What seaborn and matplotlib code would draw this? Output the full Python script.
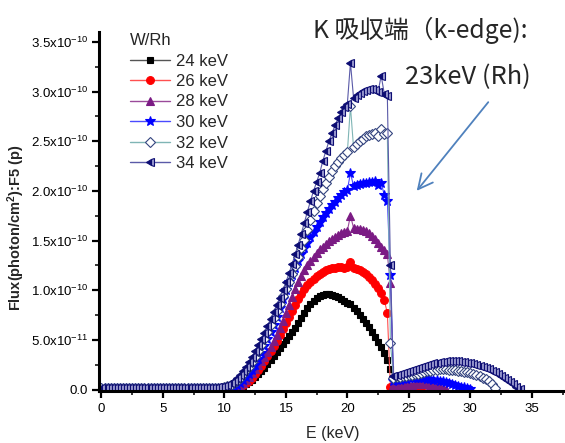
import numpy as np
import pandas as pd
import matplotlib
matplotlib.use("Agg")
import matplotlib.pyplot as plt
from matplotlib.lines import Line2D
import seaborn as sns

# ---------------------------------------------------------------------------
# W target / Rh filter spectra, F5 point-detector tally, 0.25 keV bins
# ---------------------------------------------------------------------------
E_STEP = 0.25                      # bin width (keV)
FLUX_UNIT = 1e-10                  # values below are in units of 1e-10 photon/cm^2

series_labels = ["24 keV", "26 keV", "28 keV", "30 keV", "32 keV", "34 keV"]

flux_24 = [
    0.01, 0.01, 0.01, 0.01, 0.01, 0.01, 0.01, 0.01,
    0.01, 0.01, 0.01, 0.01, 0.01, 0.01, 0.01, 0.01,
    0.01, 0.01, 0.01, 0.01, 0.01, 0.01, 0.01, 0.01,
    0.01, 0.01, 0.01, 0.01, 0.01, 0.01, 0.01, 0.01,
    0.01, 0.01, 0.01, 0.01, 0.01, 0.01, 0.01, 0.01,
    0.01, 0.01, 0.01, 0.02, 0.02, 0.03, 0.04, 0.06,
    0.08, 0.10, 0.13, 0.16, 0.19, 0.22, 0.26, 0.30,
    0.34, 0.38, 0.42, 0.46, 0.50, 0.54, 0.58, 0.62,
    0.67, 0.72, 0.77, 0.82, 0.86, 0.89, 0.92, 0.94,
    0.95, 0.96, 0.96, 0.95, 0.94, 0.93, 0.91, 0.89,
    0.87, 0.86, 0.82, 0.79, 0.75, 0.71, 0.67, 0.63,
    0.58, 0.53, 0.48, 0.43, 0.37, 0.30, 0.21, 0.12,
    0.02,
]

flux_26 = [
    0.01, 0.01, 0.01, 0.01, 0.01, 0.01, 0.01, 0.01,
    0.01, 0.01, 0.01, 0.01, 0.01, 0.01, 0.01, 0.01,
    0.01, 0.01, 0.01, 0.01, 0.01, 0.01, 0.01, 0.01,
    0.01, 0.01, 0.01, 0.01, 0.01, 0.01, 0.01, 0.01,
    0.01, 0.01, 0.01, 0.01, 0.01, 0.01, 0.01, 0.01,
    0.01, 0.01, 0.02, 0.02, 0.03, 0.04, 0.05, 0.07,
    0.09, 0.12, 0.16, 0.20, 0.24, 0.29, 0.34, 0.39,
    0.44, 0.49, 0.55, 0.61, 0.67, 0.73, 0.79, 0.85,
    0.91, 0.96, 1.01, 1.05, 1.08, 1.11, 1.14, 1.16,
    1.18, 1.20, 1.21, 1.22, 1.22, 1.23, 1.23, 1.22,
    1.23, 1.28, 1.22, 1.21, 1.20, 1.18, 1.16, 1.13,
    1.10, 1.06, 1.02, 0.97, 0.90, 0.77, 0.03, 0.02,
    0.02, 0.02, 0.02, 0.02, 0.02, 0.02, 0.02, 0.01,
    0.00,
]

flux_28 = [
    0.02, 0.02, 0.02, 0.02, 0.02, 0.02, 0.02, 0.02,
    0.02, 0.02, 0.02, 0.02, 0.02, 0.02, 0.02, 0.02,
    0.02, 0.02, 0.02, 0.02, 0.02, 0.02, 0.02, 0.02,
    0.02, 0.02, 0.02, 0.02, 0.02, 0.02, 0.02, 0.02,
    0.02, 0.02, 0.02, 0.02, 0.02, 0.02, 0.02, 0.02,
    0.02, 0.02, 0.03, 0.03, 0.04, 0.05, 0.07, 0.10,
    0.13, 0.17, 0.21, 0.25, 0.29, 0.33, 0.38, 0.43,
    0.49, 0.55, 0.62, 0.69, 0.77, 0.85, 0.93, 1.01,
    1.08, 1.14, 1.20, 1.25, 1.29, 1.33, 1.37, 1.41,
    1.44, 1.47, 1.50, 1.52, 1.54, 1.56, 1.58, 1.59,
    1.60, 1.75, 1.63, 1.62, 1.62, 1.61, 1.60, 1.58,
    1.55, 1.52, 1.48, 1.44, 1.40, 1.36, 1.07, 0.05,
    0.05, 0.05, 0.05, 0.05, 0.05, 0.05, 0.06, 0.06,
    0.06, 0.06, 0.06, 0.05, 0.05, 0.04, 0.03, 0.02,
    0.01,
]

flux_30 = [
    0.02, 0.02, 0.02, 0.02, 0.02, 0.02, 0.02, 0.02,
    0.02, 0.02, 0.02, 0.02, 0.02, 0.02, 0.02, 0.02,
    0.02, 0.02, 0.02, 0.02, 0.02, 0.02, 0.02, 0.02,
    0.02, 0.02, 0.02, 0.02, 0.02, 0.02, 0.02, 0.02,
    0.02, 0.02, 0.02, 0.02, 0.02, 0.02, 0.02, 0.02,
    0.02, 0.03, 0.03, 0.04, 0.05, 0.07, 0.10, 0.13,
    0.16, 0.20, 0.25, 0.31, 0.37, 0.44, 0.51, 0.58,
    0.65, 0.73, 0.82, 0.91, 1.00, 1.08, 1.15, 1.22,
    1.29, 1.36, 1.42, 1.48, 1.54, 1.59, 1.64, 1.69,
    1.74, 1.78, 1.82, 1.86, 1.89, 1.93, 1.96, 1.99,
    2.01, 2.18, 2.05, 2.06, 2.07, 2.08, 2.08, 2.09,
    2.09, 2.10, 2.06, 2.08, 1.96, 1.90, 1.15, 0.09,
    0.10, 0.10, 0.11, 0.11, 0.12, 0.12, 0.12, 0.12,
    0.12, 0.12, 0.11, 0.11, 0.10, 0.10, 0.09, 0.09,
    0.08, 0.07, 0.06, 0.05, 0.04, 0.03, 0.03, 0.02,
    0.01,
]

flux_32 = [
    0.02, 0.02, 0.02, 0.02, 0.02, 0.02, 0.02, 0.02,
    0.02, 0.02, 0.02, 0.02, 0.02, 0.02, 0.02, 0.02,
    0.02, 0.02, 0.02, 0.02, 0.02, 0.02, 0.02, 0.02,
    0.02, 0.02, 0.02, 0.02, 0.02, 0.02, 0.02, 0.02,
    0.02, 0.02, 0.02, 0.02, 0.02, 0.02, 0.02, 0.02,
    0.03, 0.04, 0.05, 0.07, 0.09, 0.12, 0.16, 0.20,
    0.23, 0.28, 0.33, 0.39, 0.45, 0.51, 0.58, 0.65,
    0.72, 0.79, 0.86, 0.94, 1.01, 1.08, 1.16, 1.24,
    1.33, 1.42, 1.51, 1.61, 1.71, 1.80, 1.88, 1.95,
    2.02, 2.08, 2.14, 2.20, 2.25, 2.29, 2.33, 2.36,
    2.39, 2.85, 2.44, 2.47, 2.50, 2.52, 2.55, 2.56,
    2.57, 2.58, 2.55, 2.62, 2.57, 2.58, 0.47, 0.12,
    0.13, 0.13, 0.14, 0.14, 0.15, 0.15, 0.16, 0.16,
    0.17, 0.18, 0.19, 0.19, 0.20, 0.20, 0.21, 0.21,
    0.21, 0.20, 0.20, 0.20, 0.19, 0.19, 0.18, 0.18,
    0.17, 0.16, 0.15, 0.14, 0.12, 0.11, 0.09, 0.06,
    0.02,
]

flux_34 = [
    0.02, 0.02, 0.02, 0.02, 0.02, 0.02, 0.02, 0.02,
    0.02, 0.02, 0.02, 0.02, 0.02, 0.02, 0.02, 0.02,
    0.02, 0.02, 0.02, 0.02, 0.02, 0.02, 0.02, 0.02,
    0.02, 0.02, 0.02, 0.02, 0.02, 0.02, 0.02, 0.02,
    0.02, 0.02, 0.02, 0.02, 0.02, 0.02, 0.03, 0.03,
    0.04, 0.05, 0.07, 0.09, 0.12, 0.15, 0.19, 0.23,
    0.28, 0.33, 0.39, 0.45, 0.51, 0.57, 0.64, 0.71,
    0.78, 0.85, 0.92, 1.00, 1.08, 1.17, 1.26, 1.36,
    1.46, 1.57, 1.68, 1.79, 1.90, 2.00, 2.09, 2.18,
    2.30, 2.40, 2.50, 2.58, 2.66, 2.73, 2.79, 2.84,
    2.88, 3.29, 2.94, 2.97, 2.99, 3.01, 3.02, 3.03,
    3.03, 3.02, 3.00, 3.16, 2.98, 2.96, 1.25, 0.14,
    0.15, 0.16, 0.17, 0.18, 0.19, 0.20, 0.21, 0.22,
    0.23, 0.24, 0.25, 0.26, 0.27, 0.27, 0.28, 0.28,
    0.29, 0.29, 0.29, 0.29, 0.29, 0.28, 0.28, 0.27,
    0.27, 0.26, 0.25, 0.24, 0.23, 0.22, 0.21, 0.19,
    0.18, 0.16, 0.14, 0.12, 0.10, 0.08, 0.06, 0.03,
    0.01,
]

x_ticks = [0, 5, 10, 15, 20, 25, 30, 35]
y_ticks = [0.0, 0.5, 1.0, 1.5, 2.0, 2.5, 3.0, 3.5]          # x 1e-10
y_tick_labels = ["0.0", "5.0x10$^{-11}$", "1.0x10$^{-10}$", "1.5x10$^{-10}$",
                 "2.0x10$^{-10}$", "2.5x10$^{-10}$", "3.0x10$^{-10}$",
                 "3.5x10$^{-10}$"]

all_flux = [flux_24, flux_26, flux_28, flux_30, flux_32, flux_34]

# long-form table: one row per energy bin per tube voltage
frames = []
for label, vals in zip(series_labels, all_flux):
    vals = np.asarray(vals, dtype=float)
    frames.append(pd.DataFrame({
        "E": np.arange(len(vals)) * E_STEP,
        "flux": vals * FLUX_UNIT,
        "series": label,
    }))
df = pd.concat(frames, ignore_index=True)

# marker / colour style per series
styles = {
    "24 keV": dict(color="#555555", marker="s", markersize=5.0,
                   markerfacecolor="#000000", markeredgecolor="#000000"),
    "26 keV": dict(color="#ff5050", marker="o", markersize=5.6,
                   markerfacecolor="#ff0000", markeredgecolor="#ff0000"),
    "28 keV": dict(color="#9a4a9a", marker="^", markersize=6.0,
                   markerfacecolor="#7b1b84", markeredgecolor="#7b1b84"),
    "30 keV": dict(color="#4a4aff", marker="*", markersize=7.5,
                   markerfacecolor="#0000ff", markeredgecolor="#0000ff"),
    "32 keV": dict(color="#7fb5b5", marker="D", markersize=5.0,
                   markerfacecolor="white", markeredgecolor="#34447f"),
    "34 keV": dict(color="#5a5aa8", marker="<", markersize=6.2,
                   markerfacecolor="#0d0d73", markeredgecolor="#0d0d73",
                   fillstyle="left", markerfacecoloralt="#9a9ad0"),
}

sns.set_style("ticks")
plt.rcParams["font.family"] = ["Liberation Sans", "Noto Sans CJK JP", "DejaVu Sans"]
plt.rcParams["mathtext.fontset"] = "custom"
plt.rcParams["mathtext.rm"] = "Liberation Sans"
plt.rcParams["mathtext.bf"] = "Liberation Sans:bold"
plt.rcParams["mathtext.it"] = "Liberation Sans:italic"
plt.rcParams["mathtext.default"] = "regular"

fig = plt.figure(figsize=(5.65, 4.43), dpi=100)
ax = fig.add_axes([99 / 565, 1 - 390.5 / 443, (565 - 99) / 565, (390.5 - 32) / 443])

for label in series_labels:
    st = styles[label]
    sub = df[df["series"] == label]
    sns.lineplot(data=sub, x="E", y="flux", ax=ax, estimator=None, sort=False,
                 legend=False, linewidth=0.8, markeredgewidth=0.8, **st)

ax.set_xlim(-0.2, 37.7)
ax.set_ylim(-0.01 * FLUX_UNIT, 3.6 * FLUX_UNIT)
ax.set_xticks(x_ticks)
ax.set_xticks(np.arange(2.5, 38, 5), minor=True)
ax.set_yticks([v * FLUX_UNIT for v in y_ticks])
ax.set_yticklabels(y_tick_labels)
ax.set_yticks([v * FLUX_UNIT for v in np.arange(0.25, 3.6, 0.5)], minor=True)

sns.despine(ax=ax)
for side in ("left", "bottom"):
    ax.spines[side].set_linewidth(2.2)
    ax.spines[side].set_color("black")

ax.tick_params(axis="both", which="major", direction="out", length=5, width=1.6,
               labelsize=9.5, pad=3, colors="black")
ax.tick_params(axis="both", which="minor", direction="out", length=3, width=1.3)
ax.tick_params(axis="x", which="major", pad=4)

ax.set_xlabel("E (keV)", fontsize=11.5)
ax.set_ylabel("Flux(photon/cm$^\\mathbf{2}$):F5 (p)", fontsize=10.5,
              fontweight="bold")
ax.xaxis.set_label_coords(0.501, -0.10)
ax.yaxis.set_label_coords(-0.155, 0.453)

# legend: line - marker - line handles, left aligned title
handles = []
for label in series_labels:
    st = styles[label]
    handles.append(Line2D([], [], linewidth=1.0, markeredgewidth=0.8, **st))
leg = ax.legend(handles, series_labels, title="W/Rh", loc="upper left",
                bbox_to_anchor=(130 / 565, 1 - 33 / 443),
                bbox_transform=fig.transFigure, frameon=False, fontsize=12,
                title_fontsize=12, handlelength=2.4, handletextpad=0.36,
                labelspacing=0.33, alignment="left", borderpad=0,
                borderaxespad=0)

# K-edge note with arrow
fig.text(313 / 565, 1 - 30 / 443, "K 吸収端（k-edge):", fontsize=17.8,
         family=["Noto Sans CJK JP", "DejaVu Sans"], ha="left", va="center")
fig.text(405 / 565, 1 - 77 / 443, "23keV (Rh)", fontsize=18.3,
         family=["Noto Sans CJK JP", "DejaVu Sans"], ha="left", va="center")
ax.annotate("", xy=(415 / 565, 1 - 193 / 443), xytext=(490 / 565, 1 - 100 / 443),
            xycoords="figure fraction", textcoords="figure fraction",
            arrowprops=dict(arrowstyle="->,head_length=0.7,head_width=0.35",
                            color="#4f81bd", lw=1.3, mutation_scale=15))

fig.savefig("out.png", dpi=100)
